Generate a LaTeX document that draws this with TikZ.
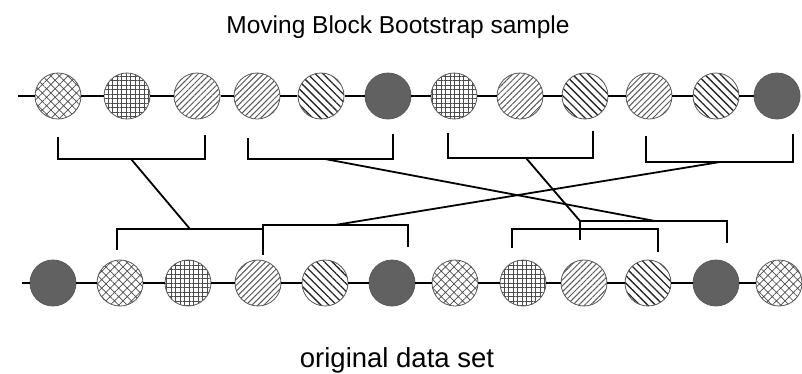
\documentclass[tikz,border=0pt]{standalone}
\usepackage{fontspec}
\setmainfont{Liberation Sans}
\usetikzlibrary{patterns.meta}
\begin{document}
\begin{tikzpicture}[x=1pt,y=-1pt,
  ball/.style={circle,minimum size=46pt,inner sep=0pt,draw=black!65,line width=0.8pt,preaction={fill=white}},
  dark/.style={ball,fill=black!62},
  xh/.style={ball,pattern={Hatch[angle=45,distance=6pt,line width=0.7pt]},pattern color=black!70},
  grd/.style={ball,pattern={Hatch[angle=0,distance=4.5pt,line width=0.6pt]},pattern color=black!70},
  dg/.style={ball,pattern={Lines[angle=45,distance=4.2pt,line width=1pt]},pattern color=black!65},
  ad/.style={ball,pattern={Lines[angle=-45,distance=5.5pt,line width=1.3pt]},pattern color=black!85},
  wire/.style={line width=1.4pt},
  brk/.style={line width=1.8pt}
]
\useasboundingbox (0,0) rectangle (802,373);
\fill[white] (0,0) rectangle (802,373);

\node[font=\fontsize{24.5}{29}\selectfont, anchor=base] (title) at (398,33) {Moving Block Bootstrap sample};
\node[font=\fontsize{27.5}{32}\selectfont, anchor=base] (orig) at (397,367) {original data set};

% top row
\node[xh]   (t1)  at (58,96)  {};
\node[grd]  (t2)  at (127,96) {};
\node[dg]   (t3)  at (197,96) {};
\node[dg]   (t4)  at (257,96) {};
\node[ad]   (t5)  at (321,96) {};
\node[dark] (t6)  at (388,96) {};
\node[grd]  (t7)  at (454,96) {};
\node[dg]   (t8)  at (520,96) {};
\node[ad]   (t9)  at (585,96) {};
\node[dg]   (t10) at (649,96) {};
\node[ad]   (t11) at (716,96) {};
\node[dark] (t12) at (777,96) {};
\coordinate (ts) at (18,96);
\draw[wire] (ts) -- (t1) -- (t2) -- (t3) -- (t4) -- (t5) -- (t6) -- (t7) -- (t8) -- (t9) -- (t10) -- (t11) -- (t12);

% bottom row
\node[dark] (b1)  at (53,283)  {};
\node[xh]   (b2)  at (120,283) {};
\node[grd]  (b3)  at (188,283) {};
\node[dg]   (b4)  at (258,283) {};
\node[ad]   (b5)  at (325,283) {};
\node[dark] (b6)  at (392,283) {};
\node[xh]   (b7)  at (455,283) {};
\node[grd]  (b8)  at (523,283) {};
\node[dg]   (b9)  at (584,283) {};
\node[ad]   (b10) at (648,283) {};
\node[dark] (b11) at (716,283) {};
\node[xh]   (b12) at (779,283) {};
\coordinate (bs) at (22,283);
\draw[wire] (bs) -- (b1) -- (b2) -- (b3) -- (b4) -- (b5) -- (b6) -- (b7) -- (b8) -- (b9) -- (b10) -- (b11) -- (b12);

% top brackets
\draw[brk] (58,137) |- (205,159) -- (205,135);
\draw[brk] (248,138) |- (393,159) -- (393,134);
\draw[brk] (448,133) |- (593,158) -- (593,131);
\draw[brk] (646,136) |- (793,162) -- (793,134);
\coordinate (m1) at (131,159);
\coordinate (m2) at (325,159);
\coordinate (m3) at (526,158);
\coordinate (m4) at (720,162);

% bottom brackets
\draw[brk] (117,250) |- (263,229);
\draw[brk] (263,255) |- (408,225) -- (408,247);
\draw[brk] (512,248) |- (658,229) -- (658,252);
\draw[brk] (580,240) |- (727,221) -- (727,243);
\coordinate (nA) at (190,229);
\coordinate (nB) at (335,225);
\coordinate (nC) at (580,221);
\coordinate (nD) at (655,221);

% connectors
\draw[brk] (m1) -- (nA);
\draw[brk] (m2) -- (nD);
\draw[brk] (m3) -- (nC);
\draw[brk] (m4) -- (nB);
\end{tikzpicture}
\end{document}
